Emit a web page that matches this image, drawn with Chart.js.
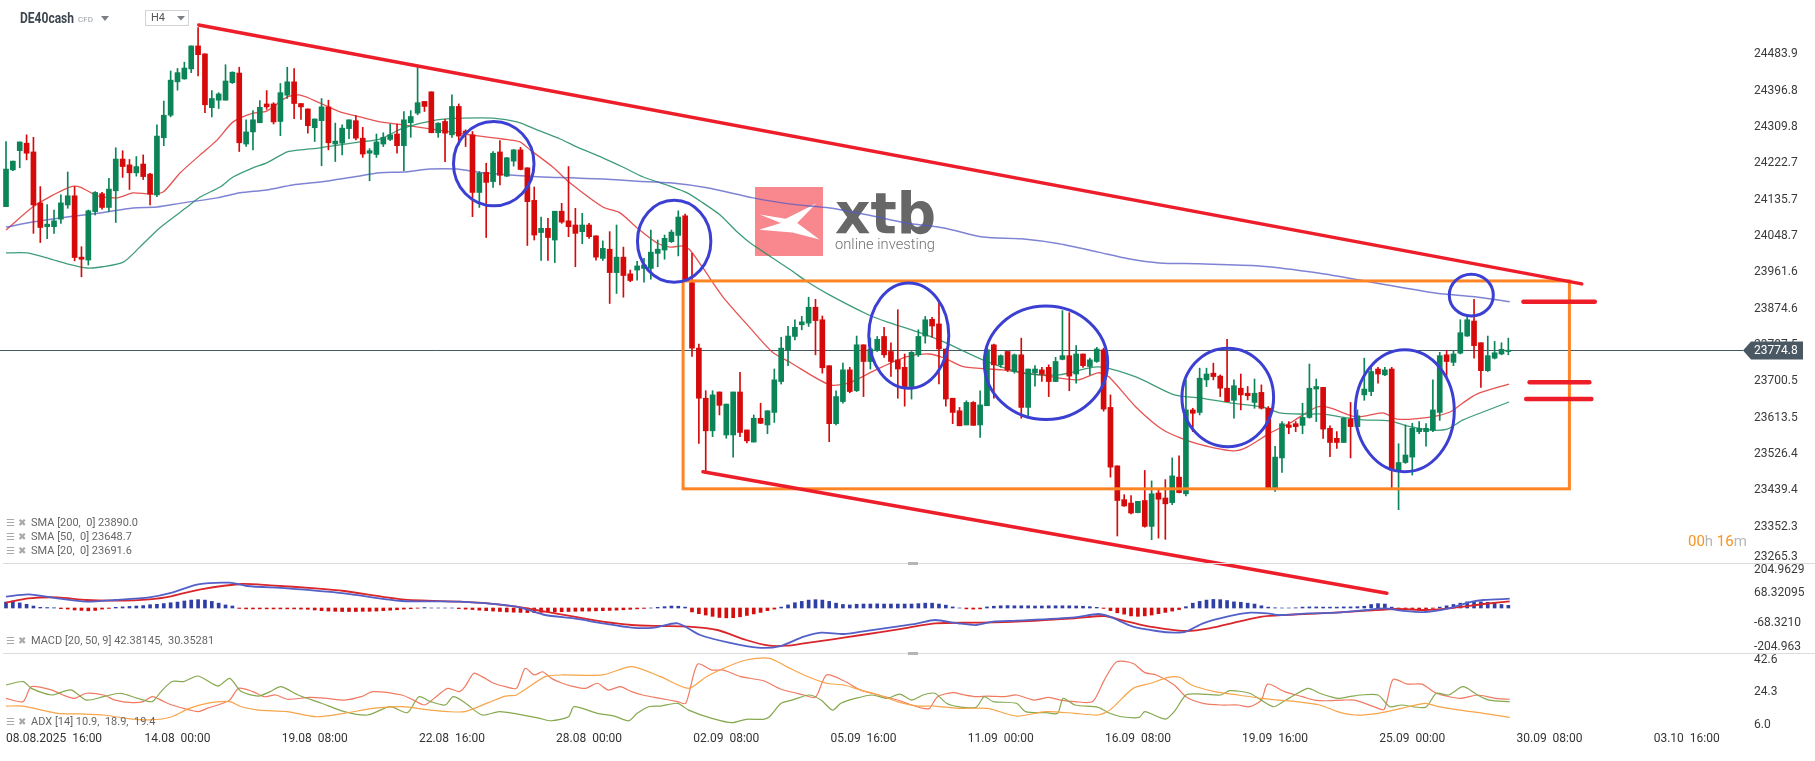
<!doctype html>
<html lang="en">
<head>
<meta charset="utf-8">
<title>DE40cash H4</title>
<style>
  * { margin: 0; padding: 0; }
  body { background: #fff; }
  canvas { display: block; }
</style>
</head>
<body>
<canvas id="chart" width="1815" height="761"></canvas>
<script src="https://cdn.jsdelivr.net/npm/chart.js/dist/chart.umd.min.js"></script>
<script>
// H4 candles, index 0 = first bar on screen
const opens = [
  24119, 24207, 24253, 24271, 24250, 24128, 24071, 24071, 24089, 24123,
  24145, 23998, 23991, 24107, 24150, 24117, 24157, 24233, 24219, 24200,
  24221, 24197, 24147, 24284, 24338, 24418, 24425, 24449, 24504, 24485,
  24356, 24374, 24374, 24416, 24439, 24269, 24298, 24320, 24365, 24365,
  24323, 24386, 24418, 24366, 24353, 24308, 24325, 24358, 24269, 24271,
  24306, 24325, 24283, 24247, 24244, 24269, 24280, 24293, 24265, 24320,
  24343, 24371, 24394, 24296, 24323, 24291, 24359, 24300, 24291, 24153,
  24201, 24179, 24250, 24192, 24228, 24255, 24212, 24134, 24057, 24067,
  24039, 24108, 24085, 24075, 24059, 24075, 24049, 23995, 24017, 23961,
  23998, 23958, 23967, 23971, 23971, 24007, 24015, 24035, 24050, 24097,
  23937, 23780, 23660, 23582, 23675, 23572, 23572, 23675, 23584, 23555,
  23612, 23596, 23626, 23700, 23776, 23808, 23836, 23840, 23878, 23848,
  23738, 23599, 23652, 23728, 23678, 23788, 23748, 23774, 23808, 23772,
  23752, 23734, 23688, 23764, 23809, 23849, 23838, 23778, 23660, 23630,
  23596, 23650, 23596, 23642, 23788, 23740, 23772, 23724, 23764, 23638,
  23721, 23728, 23734, 23700, 23753, 23762, 23718, 23766, 23736, 23748,
  23776, 23638, 23498, 23417, 23409, 23386, 23415, 23353, 23433, 23421,
  23410, 23471, 23431, 23632, 23626, 23704, 23720, 23713, 23684, 23655,
  23684, 23672, 23650, 23674, 23636, 23445, 23517, 23596, 23599, 23595,
  23614, 23682, 23686, 23588, 23564, 23554, 23610, 23592, 23668, 23676,
  23730, 23716, 23730, 23488, 23506, 23519, 23580, 23580, 23583, 23626,
  23764, 23746, 23768, 23809, 23845, 23793, 23726, 23756, 23766, 23772
];
const highs = [
  24275, 24228, 24274, 24291, 24285, 24167, 24124, 24111, 24147, 24202,
  24167, 24023, 24111, 24155, 24153, 24187, 24260, 24253, 24232, 24239,
  24243, 24199, 24315, 24372, 24444, 24450, 24465, 24504, 24548, 24485,
  24397, 24392, 24459, 24442, 24453, 24327, 24349, 24373, 24397, 24368,
  24414, 24453, 24450, 24366, 24353, 24329, 24378, 24374, 24319, 24315,
  24327, 24337, 24309, 24258, 24293, 24296, 24317, 24317, 24347, 24349,
  24453, 24371, 24394, 24320, 24328, 24387, 24365, 24303, 24299, 24203,
  24223, 24251, 24277, 24237, 24256, 24261, 24212, 24166, 24094, 24091,
  24108, 24127, 24215, 24115, 24103, 24079, 24049, 24037, 24059, 24075,
  24022, 23967, 23988, 23995, 24063, 24039, 24051, 24063, 24109, 24101,
  24007, 23790, 23678, 23678, 23675, 23646, 23675, 23722, 23584, 23620,
  23648, 23630, 23730, 23806, 23832, 23848, 23856, 23902, 23897, 23857,
  23738, 23678, 23744, 23734, 23809, 23788, 23804, 23808, 23830, 23793,
  23872, 23766, 23772, 23824, 23856, 23854, 23891, 23778, 23660, 23638,
  23654, 23652, 23678, 23780, 23790, 23764, 23772, 23766, 23804, 23730,
  23738, 23734, 23740, 23758, 23870, 23865, 23786, 23766, 23756, 23782,
  23780, 23668, 23498, 23429, 23427, 23413, 23487, 23462, 23442, 23465,
  23517, 23522, 23704, 23636, 23732, 23732, 23744, 23716, 23801, 23704,
  23718, 23688, 23706, 23692, 23640, 23545, 23604, 23604, 23604, 23648,
  23742, 23706, 23686, 23594, 23580, 23614, 23650, 23632, 23756, 23734,
  23734, 23734, 23734, 23551, 23596, 23600, 23604, 23599, 23704, 23770,
  23774, 23774, 23848, 23857, 23897, 23793, 23809, 23796, 23793, 23804
];
const lows = [
  24119, 24205, 24212, 24231, 24055, 24033, 24042, 24055, 24079, 24115,
  23989, 23951, 23979, 24099, 24113, 24107, 24081, 24189, 24160, 24192,
  24184, 24123, 24143, 24265, 24334, 24398, 24424, 24440, 24432, 24344,
  24334, 24354, 24374, 24414, 24251, 24263, 24255, 24320, 24352, 24317,
  24289, 24378, 24330, 24328, 24295, 24275, 24217, 24255, 24227, 24243,
  24282, 24279, 24237, 24181, 24237, 24263, 24277, 24247, 24205, 24285,
  24339, 24347, 24296, 24285, 24227, 24285, 24267, 24263, 24095, 24117,
  24045, 24165, 24171, 24191, 24216, 24207, 24026, 24039, 23990, 23990,
  23985, 24079, 24047, 23975, 24030, 24043, 23991, 23990, 23887, 23911,
  23902, 23939, 23943, 23938, 23945, 23975, 23993, 24033, 24001, 23943,
  23760, 23552, 23484, 23568, 23620, 23564, 23519, 23568, 23553, 23555,
  23599, 23575, 23602, 23694, 23738, 23800, 23824, 23832, 23764, 23720,
  23556, 23596, 23648, 23673, 23676, 23664, 23730, 23772, 23758, 23712,
  23660, 23641, 23658, 23760, 23792, 23806, 23694, 23641, 23599, 23594,
  23596, 23595, 23566, 23642, 23660, 23734, 23724, 23720, 23612, 23618,
  23689, 23700, 23664, 23700, 23752, 23678, 23696, 23734, 23716, 23746,
  23629, 23471, 23330, 23401, 23383, 23385, 23351, 23321, 23325, 23322,
  23405, 23433, 23426, 23580, 23620, 23688, 23704, 23664, 23652, 23612,
  23632, 23656, 23636, 23634, 23443, 23437, 23482, 23575, 23580, 23575,
  23612, 23604, 23564, 23520, 23540, 23554, 23517, 23592, 23655, 23666,
  23696, 23714, 23445, 23393, 23504, 23476, 23575, 23545, 23580, 23607,
  23710, 23738, 23766, 23808, 23756, 23686, 23724, 23754, 23764, 23764
];
const closes = [
  24209, 24228, 24274, 24247, 24123, 24069, 24077, 24085, 24128, 24145,
  23997, 23993, 24109, 24153, 24117, 24161, 24233, 24215, 24200, 24215,
  24191, 24149, 24288, 24338, 24422, 24440, 24451, 24504, 24483, 24363,
  24378, 24389, 24420, 24441, 24272, 24298, 24327, 24357, 24358, 24322,
  24392, 24418, 24366, 24358, 24313, 24329, 24358, 24272, 24276, 24307,
  24327, 24283, 24245, 24253, 24274, 24285, 24291, 24265, 24327, 24335,
  24368, 24359, 24296, 24319, 24295, 24359, 24288, 24295, 24153, 24199,
  24177, 24247, 24194, 24236, 24255, 24208, 24131, 24051, 24067, 24045,
  24108, 24082, 24071, 24055, 24075, 24047, 23998, 24019, 23961, 23998,
  23954, 23942, 23977, 23979, 24010, 24017, 24043, 24058, 24094, 23943,
  23780, 23660, 23582, 23668, 23643, 23646, 23675, 23578, 23558, 23612,
  23600, 23630, 23704, 23780, 23809, 23830, 23843, 23878, 23846, 23733,
  23599, 23664, 23728, 23676, 23788, 23748, 23778, 23801, 23764, 23748,
  23730, 23686, 23770, 23808, 23848, 23833, 23778, 23658, 23626, 23594,
  23650, 23595, 23644, 23776, 23740, 23762, 23728, 23764, 23638, 23730,
  23730, 23718, 23700, 23748, 23762, 23713, 23766, 23738, 23752, 23778,
  23634, 23495, 23415, 23402, 23385, 23413, 23353, 23431, 23418, 23407,
  23474, 23434, 23632, 23624, 23708, 23718, 23712, 23684, 23652, 23690,
  23668, 23666, 23672, 23636, 23445, 23519, 23599, 23590, 23592, 23614,
  23684, 23688, 23586, 23554, 23554, 23612, 23592, 23618, 23682, 23724,
  23718, 23728, 23488, 23506, 23524, 23588, 23588, 23588, 23632, 23762,
  23748, 23766, 23817, 23848, 23786, 23726, 23762, 23769, 23777, 23775
];

// moving averages: [bar index, price]
const sma20 = [[0,24063],[3.9,24118],[6.9,24147],[9.3,24166],[10.8,24166],[13.3,24145],[16.2,24140],[18.5,24152],[21,24149],[22.9,24154],[25.4,24200],[28.3,24243],[30.8,24279],[33.1,24322],[36,24343],[38,24348],[41,24382],[42.9,24386],[45.8,24367],[48.7,24346],[51.6,24334],[54.5,24322],[57.9,24315],[62.8,24303],[67.6,24291],[72.4,24281],[74.9,24274],[76.4,24255],[79.7,24214],[82.2,24176],[87,24118],[89.5,24104],[92,24068],[94.9,24032],[96.8,24022],[98.7,24025],[99.7,24015],[101.6,23972],[104.5,23903],[108.5,23828],[111.7,23771],[114.4,23745],[120.1,23692],[122.9,23697],[126.8,23728],[131.2,23759],[134.5,23766],[136.7,23757],[139.7,23735],[145.2,23728],[150.7,23716],[156.3,23704],[159.2,23721],[160.8,23711],[164.7,23639],[168.7,23584],[173.6,23551],[178.9,23534],[180.9,23543],[184.3,23577],[187.2,23601],[191.1,23639],[193,23637],[196.9,23615],[200.7,23625],[202.8,23610],[207.6,23615],[210.5,23627],[212.4,23649],[214.4,23670],[219.1,23694]];
const sma50 = [[0,24008],[3.1,24008],[6.4,23994],[8.9,23982],[11.8,23972],[14.1,23975],[17.1,23986],[19.5,24022],[22.4,24068],[26.4,24118],[28.3,24142],[31.2,24166],[33.1,24190],[36,24212],[38,24224],[41,24250],[42.9,24255],[45.8,24260],[48.7,24267],[51.6,24274],[54.5,24281],[57.9,24307],[62.8,24327],[66.6,24331],[71,24331],[74.5,24322],[77.4,24303],[80.8,24281],[83.2,24262],[87,24236],[89.9,24214],[92.9,24190],[96.8,24168],[99.3,24152],[101.6,24128],[104.1,24099],[106.6,24058],[108.5,24032],[114.4,23967],[116.8,23939],[120.1,23907],[125.7,23860],[128.4,23843],[132.9,23819],[136.7,23795],[142.4,23752],[148,23721],[153.5,23716],[159.2,23735],[164.7,23711],[170.3,23668],[174,23661],[178.4,23649],[183.2,23639],[185.7,23625],[189.1,23622],[192,23622],[195.5,23613],[197.8,23608],[201.7,23606],[204.2,23594],[207.6,23584],[210.1,23586],[212.4,23608],[215.3,23627],[219.1,23651]];
const sma200 = [[0,24070],[3.9,24082],[8.9,24094],[13.7,24104],[18.5,24116],[22,24118],[25.8,24128],[30.8,24140],[34.1,24152],[38,24159],[41.8,24171],[45.8,24178],[50.6,24190],[54.5,24200],[57.9,24202],[61.8,24209],[65.7,24209],[69.5,24200],[73.5,24195],[78.3,24190],[82.2,24188],[87,24185],[92,24180],[96.8,24176],[102.2,24164],[108.9,24140],[114.4,24125],[120.1,24116],[125.7,24099],[131.2,24080],[136.7,24068],[142.4,24046],[148,24042],[153.5,24030],[159.2,24010],[163.6,23994],[168.1,23984],[174,23982],[182.7,23977],[191.3,23960],[199.7,23936],[208.3,23912],[214.1,23903],[219.2,23891]];

// MACD (20, 50, 9)
const macdLine = [[0,51.6],[3.3,62.2],[7.5,44],[11.7,28.8],[15.9,36.4],[20.9,48.6],[24.2,69.8],[28,107.8],[32.6,115.4],[35.1,100.2],[41,89.5],[49.3,66.8],[57.7,31.9],[66.1,28.8],[74.4,6],[78.6,-31.9],[82.8,-47.1],[87,-69.9],[91.2,-89.6],[94.5,-89.6],[97.9,-69.9],[101.2,-123],[105.4,-157.9],[109.6,-180.7],[112.9,-173.1],[116.3,-130.6],[118.8,-112.4],[122.1,-118.5],[124.7,-107.8],[130.3,-82.8],[132.9,-69.9],[135.4,-54.7],[138.8,-69.9],[141.4,-77.5],[143.9,-62.3],[147.3,-57.7],[155.8,-42.5],[159.2,-27.4],[160.9,-39.5],[164.3,-85.1],[167.7,-104.8],[170.3,-112.4],[172,-107.8],[174.5,-69.9],[178,-39.5],[181.4,-21.3],[183.9,-24.3],[185.6,-31.9],[189.9,-24.3],[194.1,-21.3],[198.4,-9.1],[200.9,-1.5],[203.5,-12.2],[206.9,-18.3],[210.3,-1.5],[213.7,28.8],[215.4,36.4],[219.2,42.4]];
const signalLine = [[0,24.3],[3.3,44],[7.5,48.6],[11.7,36.4],[15.9,33.4],[20.9,39.4],[24.2,54.6],[28.4,85],[34.3,109.3],[38.5,103.2],[45.1,89.5],[49.3,77.4],[57.7,39.4],[66.1,28.8],[70.3,21.2],[74.4,6],[78.6,-16.7],[82.8,-39.5],[87,-62.3],[91.2,-77.5],[95.4,-82],[99.5,-85.1],[103.7,-100.2],[107.9,-145.8],[111.3,-171.6],[113.8,-171.6],[116.3,-161],[120.5,-142.8],[124.7,-123],[130.3,-96.4],[135.4,-69.9],[141.4,-66.8],[147.3,-62.3],[155.8,-47.1],[160.1,-36.5],[162.6,-54.7],[166,-80.5],[169.4,-97.2],[172,-104.8],[175.4,-92.6],[179.7,-62.3],[183.1,-39.5],[186.5,-31.9],[191.6,-24.3],[198.4,-12.2],[202.6,-4.6],[206.9,-9.1],[210.3,-1.5],[215.4,18.2],[219.2,30.4]];
const macdHist = [
  27, 32, 23, 17, 9, 3, 2, 1, -3, -5,
  -9, -11, -13, -11, -5, -2, 3, 5, 7, 9,
  11, 15, 17, 20, 24, 27, 32, 36, 38, 36,
  30, 22, 14, 9, -2, -4, -4, -4, -4, -4,
  -4, -4, -4, -5, -6, -9, -12, -14, -15, -16,
  -16, -16, -15, -15, -14, -12, -10, -8, -5, -3,
  -1, 2, 0, 0, 0, 0, -3, -5, -7, -10,
  -12, -14, -16, -18, -19, -20, -21, -21, -20, -19,
  -18, -17, -16, -15, -14, -14, -13, -12, -11, -10,
  -8, -6, -4, -2, 0, 3, 6, 9, 8, 4,
  -18, -26, -32, -38, -43, -45, -44, -40, -34, -27,
  -20, -12, -5, 4, 14, 24, 30, 36, 38, 36,
  30, 22, 16, 14, 17, 18, 18, 19, 18, 18,
  18, 18, 18, 20, 22, 22, 18, 13, 5, 0,
  -4, -5, -4, 5, 8, 10, 11, 10, 10, 10,
  9, 9, 10, 10, 10, 10, 9, 8, 6, 3,
  -2, -12, -22, -28, -36, -38, -36, -32, -26, -20,
  -14, -7, 6, 22, 30, 36, 39, 38, 34, 28,
  26, 22, 18, 10, 4, 1, 0, 0, 1, 4,
  5, 5, 4, 4, 4, 5, 5, 6, 8, 16,
  20, 18, 4, -2, -3, -3, -3, -3, -2, 4,
  10, 16, 22, 28, 30, 28, 26, 22, 16, 12
];

// ADX (14)
const adxGreen = [[0,27.6],[2.5,29.2],[3.7,26],[6.7,22.9],[8.3,24.5],[9.6,25.2],[11.7,20.5],[14.2,22.1],[16.7,23.7],[19.2,21.3],[21.3,19.8],[22.6,24.5],[24.2,29.2],[25.9,29.2],[28,31.8],[30.9,27.1],[32.6,30.7],[34.3,24.5],[36.8,22.4],[38.5,24.5],[40.1,26.8],[42.6,22.9],[46,19],[49.3,15.1],[52.7,13.5],[56,17.4],[58.5,14.6],[60.2,22.1],[61.9,19.8],[64,18.2],[65.2,22.1],[66.9,19.3],[69.4,13.5],[71.9,15.1],[74.4,14],[77.8,11.9],[79.5,10.8],[82,12.7],[82.8,17.4],[86.2,14.3],[88.7,13],[90.8,10.8],[92,14.3],[93.7,17.4],[95.4,17.7],[97.9,19],[99.5,15.8],[102.9,11.9],[105.8,9.9],[107.9,11.5],[110.4,11.5],[111.3,12.7],[113,19],[114.6,20.5],[117.1,22.9],[118.8,20.5],[120.5,15.8],[121.7,19],[123.8,21.3],[126.3,22.9],[128.4,21.3],[130.3,23.3],[132,20.5],[133.7,22.9],[135.4,23.7],[137.1,19],[138.8,17.4],[141.4,17.1],[142.6,22.1],[143.9,19.8],[147.3,19],[148.6,15.1],[151.6,14.6],[153.3,14.3],[154.1,21.3],[155.8,18.2],[159.2,17.1],[160.9,14.3],[162.6,12.7],[165.2,12.4],[166,15.1],[169,11.6],[170.3,15.1],[172,22.9],[173.7,23.4],[177.1,22.9],[178.4,24.9],[181.3,23.7],[184.7,17.4],[186.4,20.2],[189.8,26],[191.5,23.7],[194.1,21.3],[195.8,22.1],[197.5,22.9],[200,22.9],[201.7,17.4],[203.4,18.2],[206.9,17.1],[208.5,23.7],[210.3,22.9],[212.4,26.8],[214.5,22.9],[216.2,20.5],[219.2,19.8]];
const adxRed = [[0,21.3],[2.5,19.8],[3.7,26.8],[6.7,25.2],[8.3,22.9],[10,21.3],[11.7,23.7],[14.2,22.9],[15.9,20.5],[18.4,19.3],[20,19.8],[21.3,22.1],[22.6,20.5],[24.2,18.2],[28,15.1],[29.3,16.6],[30.9,18.2],[32.6,20.5],[33.9,26],[36,24.5],[37.6,22.1],[39.3,22.9],[41,20.9],[44.3,21.8],[46.8,21.3],[49.3,20.5],[51.8,22.1],[53.5,24.5],[57.7,22.9],[59.4,20.5],[61,18.2],[62.7,22.1],[64.4,26],[66.1,24.5],[66.9,26.8],[68.2,33.1],[69.4,31.5],[71.1,28.4],[72.8,26.8],[74.4,26],[75.7,35.4],[77,32.3],[78.2,33.8],[79.5,30.7],[81.1,28.4],[82.8,26.8],[84.5,26],[86.2,28.4],[87.8,25.2],[89.5,26.8],[91.2,24.5],[92.8,22.9],[95.4,21.3],[97.9,19.8],[99.1,19],[100.8,37.4],[102.9,34.6],[104.6,34.6],[107.1,31.5],[110.4,29.6],[113,25.6],[116.3,22.9],[118,21.8],[119.6,32.3],[122.1,29.6],[124.6,25.2],[127.2,22.9],[130.3,20.2],[132,18.2],[133.7,16.6],[134.6,16.6],[135.8,22.1],[138,24],[139.7,22.9],[141.4,22.1],[143.1,22.4],[145.6,22.1],[147.3,22.9],[149.9,20.5],[152,21.8],[153.7,20.5],[155.8,19.8],[158.4,19.8],[160.1,29.9],[161.9,38.5],[164.3,37.7],[166,33.4],[167.7,32.3],[170.3,27.6],[172,22.1],[174.5,19],[177.1,18.2],[179.6,18.2],[181.3,17.4],[183,20.5],[183.9,28],[186.4,24.5],[189,22.1],[190.7,20.5],[192.4,20.2],[194.9,20.5],[196.6,20.5],[199.2,17.7],[200.9,16.2],[202.2,30.2],[204.3,28],[206.4,28],[208.5,23.7],[212,21.3],[214.5,22.9],[217.1,21.3],[219.2,20.9]];
const adxOrange = [[0,17.7],[2.5,17.7],[4.1,16.6],[7.5,14.3],[10.8,14],[14.2,13.5],[17.5,11.9],[20.9,11.2],[24.2,12.7],[26.7,16.6],[29.3,19],[32.6,19.8],[34.3,17.4],[36.8,15.8],[41,15.1],[45.2,12.7],[49.3,14.3],[53.5,16.6],[57.7,17.4],[61.9,15.8],[64.4,15.1],[66.9,15.1],[70.3,19.3],[72.8,22.4],[74.4,22.9],[78.6,31.5],[81.1,32.3],[87,32.3],[91.2,36.2],[95.4,31.5],[99.5,26],[102.1,31.5],[105.4,36.5],[107.9,39.3],[111.3,40.1],[113.8,36.2],[116.3,32.3],[119.6,28.4],[122.1,27.6],[124.6,25.2],[127.2,22.9],[130.3,19.4],[132.9,17.7],[135.4,17.7],[138.8,16.6],[143.1,16.6],[147.3,13],[151.6,15.1],[155.8,14.3],[159.2,13.5],[160.9,15.8],[164.3,26],[166.9,28.4],[169.4,31.2],[171.1,31.2],[172.8,27.6],[176.2,24.5],[179.6,22.9],[183,21.3],[185.6,20.5],[188.1,19.8],[191.5,18.2],[194.1,15.1],[196.6,13.5],[200,14.3],[203.4,16.6],[206.9,19],[208.5,17.7],[212,15.8],[215.4,14.3],[219.2,12.4]];

// axes
const priceTicks = [23265.3, 23352.3, 23439.4, 23526.4, 23613.5, 23700.5, 23787.5, 23874.6, 23961.6, 24048.7, 24135.7, 24222.7, 24309.8, 24396.8, 24483.9];
const macdTicks = [-204.963, -68.321, 68.32095, 204.9629];
const macdTickText = ['-204.963', '-68.3210', '68.32095', '204.9629'];
const adxTicks = [6.0, 24.3, 42.6];
const timeTicks = [5, 25, 45, 65, 85, 105, 125, 145, 165, 185, 205, 225, 245];
const timeLabels = ['08.08.2025  16:00', '14.08  00:00', '19.08  08:00', '22.08  16:00', '28.08  00:00', '02.09  08:00', '05.09  16:00', '11.09  00:00', '16.09  08:00', '19.09  16:00', '25.09  00:00', '30.09  08:00', '03.10  16:00'];
const lastPrice = 23774.8;

// drawings on the price pane: [index, price]
const upperTrend = [[28.1, 24554], [229.7, 23934]];
const lowerTrend = [[101.6, 23484], [201.3, 23193]];
const rangeBox = { from: 98.7, to: 227.9, top: 23941, bottom: 23443 };
const circles = [ // centre index, centre price, radius in bars, radius in points
  [71.1, 24222, 5.87, 101], [97.4, 24036, 5.35, 98], [131.6, 23810, 5.83, 126],
  [151.6, 23745, 8.99, 136], [178.1, 23662, 6.68, 118], [203.9, 23630, 7.22, 146],
  [213.6, 23907, 3.21, 50]
];
const levelMarks = [[221.2, 231.6, 23891], [222.1, 230.8, 23698], [221.6, 231.1, 23658]];

const UP = '#0b8457', DOWN = '#d60a0a';
const candleColor = i => closes[i] >= opens[i] ? UP : DOWN;
const pts = arr => arr.map(([x, y]) => ({ x, y }));
const line = (label, arr, axis, color, width) => ({
  type: 'line', label, data: pts(arr), yAxisID: axis, borderColor: color,
  borderWidth: width, pointRadius: 0, tension: 0.25, fill: false, order: 2
});

Chart.defaults.font.family = 'Roboto';

const rightAxis = (weight, min, max, ticks, text) => ({
  type: 'linear', position: 'right', stack: 'panes', stackWeight: weight,
  min, max, bounds: 'data',
  grid: { display: false, drawTicks: false }, border: { display: false },
  afterBuildTicks: s => { s.ticks = ticks.map(value => ({ value })); },
  afterFit: s => { s.width = 75; s.paddingTop = 0; s.paddingBottom = 0; },
  ticks: { autoSkip: false, padding: 14, color: '#3a3a3a', font: { size: 12 }, callback: text }
});

// keep the outermost labels of each pane inside it, like the terminal does
const labelFit = {
  id: 'labelFit',
  beforeDraw(chart) {
    ['y', 'yMacd', 'yAdx'].forEach(id => {
      const s = chart.scales[id];
      s.getLabelItems().forEach(item => {
        const t = item.options.translation;
        t[1] = Math.min(Math.max(t[1], s.top + 7), s.bottom - 6);
      });
    });
    const first = chart.scales.x.getLabelItems()[0];
    if (first) { first.options.textAlign = 'left'; first.options.translation[0] = 6; }
  }
};

const paper = {
  id: 'paper',
  beforeDraw(chart) {
    const ctx = chart.ctx;
    ctx.save(); ctx.fillStyle = '#fff'; ctx.fillRect(0, 0, chart.width, chart.height); ctx.restore();
  },
  beforeDatasetsDraw(chart) {
    const { ctx, chartArea } = chart;
    const ys = chart.scales.y;
    ctx.save();
    // watermark
    const lx = 755, ly = 187, lw = 68, lh = 69;
    ctx.fillStyle = '#f8878e';
    ctx.fillRect(lx, ly, lw, lh);
    ctx.fillStyle = '#fff';
    const X = [[0.07, 0.40], [0.45, 0.46], [0.90, 0.24], [0.62, 0.52], [0.95, 0.76], [0.55, 0.66], [0.06, 0.62], [0.38, 0.52]];
    ctx.beginPath();
    X.forEach(([u, v], k) => k ? ctx.lineTo(lx + u * lw, ly + v * lh) : ctx.moveTo(lx + u * lw, ly + v * lh));
    ctx.closePath(); ctx.fill();
    ctx.fillStyle = '#676767';
    ctx.font = 'bold 57px "DejaVu Sans"';
    ctx.textBaseline = 'alphabetic';
    const w = ctx.measureText('xtb').width;
    ctx.save(); ctx.translate(835, 233); ctx.scale(101 / w, 1); ctx.fillText('xtb', 0, 0); ctx.restore();
    ctx.fillStyle = '#707070';
    ctx.font = '300 15px Roboto';
    ctx.fillText('online investing', 835, 249, 100);
    // last price line
    const py = Math.round(ys.getPixelForValue(lastPrice)) + 0.5;
    ctx.strokeStyle = '#455a64'; ctx.lineWidth = 1;
    ctx.beginPath(); ctx.moveTo(0, py); ctx.lineTo(chartArea.right + 3, py); ctx.stroke();
    ctx.restore();
  },
  afterDatasetsDraw(chart) {
    const { ctx } = chart;
    const xs = chart.scales.x, ys = chart.scales.y;
    const X = v => xs.getPixelForValue(v), Y = v => ys.getPixelForValue(v);
    ctx.save();
    ctx.lineCap = 'round';
    // range box
    ctx.strokeStyle = '#ff8426'; ctx.lineWidth = 3;
    ctx.strokeRect(X(rangeBox.from), Y(rangeBox.top), X(rangeBox.to) - X(rangeBox.from), Y(rangeBox.bottom) - Y(rangeBox.top));
    // trend lines
    ctx.strokeStyle = '#ee1d2a'; ctx.lineWidth = 3.5;
    [upperTrend, lowerTrend].forEach(([a, b]) => {
      ctx.beginPath(); ctx.moveTo(X(a[0]), Y(a[1])); ctx.lineTo(X(b[0]), Y(b[1])); ctx.stroke();
    });
    // level marks
    ctx.lineWidth = 4.5;
    levelMarks.forEach(([a, b, p]) => {
      ctx.beginPath(); ctx.moveTo(X(a), Y(p)); ctx.lineTo(X(b), Y(p)); ctx.stroke();
    });
    // circles
    ctx.strokeStyle = '#3b40d2'; ctx.lineWidth = 3;
    circles.forEach(([ci, cp, ri, rp]) => {
      const cx = X(ci), cy = Y(cp);
      ctx.beginPath();
      ctx.ellipse(cx, cy, X(ci + ri) - cx, cy - Y(cp + rp), 0, 0, Math.PI * 2);
      ctx.stroke();
    });
    ctx.restore();
  },
  afterDraw(chart) {
    const { ctx, chartArea } = chart;
    const ys = chart.scales.y;
    ctx.save();
    // pane separators
    [chart.scales.y, chart.scales.yMacd].forEach(s => {
      const b = Math.round(s.bottom) + 0.5;
      ctx.strokeStyle = '#dcdcdc'; ctx.lineWidth = 1;
      ctx.beginPath(); ctx.moveTo(3, b); ctx.lineTo(chart.width, b); ctx.stroke();
      ctx.fillStyle = '#b5b5b5'; ctx.fillRect(908, b - 1.5, 10, 3);
    });
    // last price tag
    const py = Math.round(ys.getPixelForValue(lastPrice)) + 0.5;
    const tx = chartArea.right + 3;
    ctx.fillStyle = '#4a5864';
    ctx.beginPath();
    ctx.moveTo(tx, py); ctx.lineTo(tx + 8, py - 9); ctx.lineTo(tx + 60, py - 9);
    ctx.lineTo(tx + 60, py + 9); ctx.lineTo(tx + 8, py + 9); ctx.closePath(); ctx.fill();
    ctx.fillStyle = '#fff'; ctx.font = '12px Roboto'; ctx.textBaseline = 'middle';
    ctx.fillText(lastPrice.toFixed(1), tx + 11, py + 0.5);
    // countdown
    ctx.font = '15px Roboto';
    let cx = 1688;
    [['00', '#f7931e'], ['h ', '#b8b8b8'], ['16', '#f7931e'], ['m', '#b8b8b8']].forEach(([s, c]) => {
      ctx.fillStyle = c; ctx.fillText(s, cx, 542); cx += ctx.measureText(s).width;
    });
    // instrument header
    ctx.fillStyle = '#3d4650'; ctx.font = 'bold 14px Roboto';
    ctx.fillText('DE40cash', 20, 19, 54);
    ctx.fillStyle = '#9aa0a6'; ctx.font = '8px Roboto';
    ctx.fillText('CFD', 78, 20);
    ctx.fillStyle = '#7a7f85';
    ctx.beginPath(); ctx.moveTo(101, 16); ctx.lineTo(109, 16); ctx.lineTo(105, 21); ctx.closePath(); ctx.fill();
    ctx.strokeStyle = '#d0d4d8'; ctx.lineWidth = 1;
    ctx.strokeRect(145.5, 10.5, 43, 15);
    ctx.fillStyle = '#555'; ctx.font = '11px Roboto';
    ctx.fillText('H4', 151, 18.5);
    ctx.fillStyle = '#7a7f85';
    ctx.beginPath(); ctx.moveTo(177, 16); ctx.lineTo(185, 16); ctx.lineTo(181, 20.5); ctx.closePath(); ctx.fill();
    // indicator legends
    const legend = (text, y) => {
      ctx.fillStyle = '#a9a9a9';
      ctx.font = '10px "DejaVu Sans"';
      ctx.fillText('\u2630', 6, y);
      ctx.fillText('\u2716', 18, y);
      ctx.fillStyle = '#666'; ctx.font = '11px Roboto';
      ctx.fillText(text, 31, y);
    };
    legend('SMA [200,  0] 23890.0', 523);
    legend('SMA [50,  0] 23648.7', 537);
    legend('SMA [20,  0] 23691.6', 551.5);
    legend('MACD [20, 50, 9] 42.38145,  30.35281', 641.5);
    legend('ADX [14] 10.9,  18.9,  19.4', 722);
    ctx.restore();
  }
};

const idx = opens.map((_, i) => i);

new Chart(document.getElementById('chart'), {
  type: 'bar',
  data: {
    datasets: [
      { type: 'bar', label: 'body', data: idx.map(i => ({ x: i, y: [opens[i], closes[i]] })), yAxisID: 'y',
        grouped: false, barThickness: 5, minBarLength: 1, backgroundColor: c => candleColor(c.dataIndex), order: 0 },
      { type: 'bar', label: 'wick', data: idx.map(i => ({ x: i, y: [lows[i], highs[i]] })), yAxisID: 'y',
        grouped: false, barThickness: 1, backgroundColor: c => candleColor(c.dataIndex), order: 1 },
      line('SMA 200', sma200, 'y', 'rgba(84,90,196,0.75)', 1.5),
      line('SMA 50', sma50, 'y', 'rgba(28,140,96,0.85)', 1.3),
      line('SMA 20', sma20, 'y', 'rgba(226,52,52,0.85)', 1.3),
      { type: 'bar', label: 'hist', data: macdHist.map((v, i) => ({ x: i, y: v })), yAxisID: 'yMacd',
        grouped: false, barThickness: 3, backgroundColor: c => c.raw && c.raw.y < 0 ? '#d40d0d' : '#2f3fa6', order: 3 },
      line('MACD', macdLine, 'yMacd', '#5360c8', 1.8),
      line('Signal', signalLine, 'yMacd', '#d9262a', 1.8),
      line('ADX a', adxOrange, 'yAdx', '#f6a54a', 1.2),
      line('ADX b', adxGreen, 'yAdx', '#86a84e', 1.2),
      line('ADX c', adxRed, 'yAdx', '#f07a62', 1.2)
    ]
  },
  options: {
    responsive: false,
    devicePixelRatio: 1,
    animation: false,
    events: [],
    layout: { padding: 0 },
    plugins: { legend: { display: false }, tooltip: { enabled: false } },
    scales: {
      x: {
        type: 'linear', min: -0.875, max: 252.77, offset: false, bounds: 'data',
        grid: { display: false, drawTicks: false }, border: { display: false },
        afterBuildTicks: s => { s.ticks = timeTicks.map(value => ({ value })); },
        afterFit: s => { s.height = 30; s.paddingLeft = 0; s.paddingRight = 0; },
        ticks: { autoSkip: false, maxRotation: 0, minRotation: 0, padding: 1, color: '#333', font: { size: 12 },
          callback: (v, i) => timeLabels[i] }
      },
      y: rightAxis(563, 23265.3, 24614, priceTicks, v => v.toFixed(1)),
      yMacd: rightAxis(90, -204.963, 204.9629, macdTicks, (v, i) => macdTickText[i]),
      yAdx: rightAxis(78, 6.0, 42.6, adxTicks, v => v.toFixed(1))
    }
  },
  plugins: [paper, labelFit]
});
</script>
</body>
</html>
